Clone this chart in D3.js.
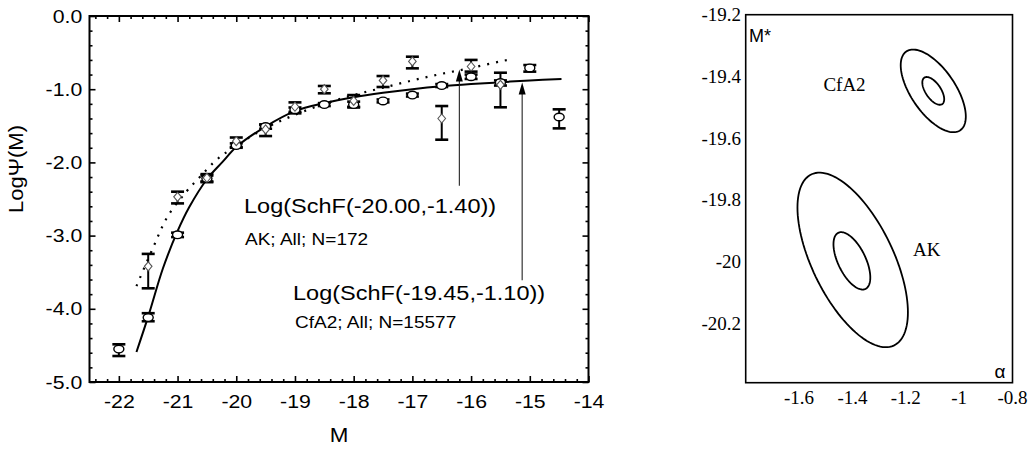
<!DOCTYPE html>
<html>
<head>
<meta charset="utf-8">
<script src="https://cdn.jsdelivr.net/npm/d3@7"></script>
<style>
  body { margin: 0; background: #fff; }
  svg { display: block; }
</style>
</head>
<body>
<svg id="chart" width="1030" height="450"></svg>
<script>
// ---- left panel: luminosity function ----
// CfA2 points (open circles)
const cfaM   = [-22, -21.5, -21, -20.5, -20, -19.5, -19, -18.5, -18, -17.5, -17, -16.5, -16, -15.5, -15, -14.5]
const cfaVal = [-4.55, -4.12, -2.99, -2.22, -1.77, -1.51, -1.28, -1.21, -1.21, -1.16, -1.08, -0.95, -0.83, -0.91, -0.71, -1.38]
const cfaHi  = [-4.485, -4.06, -2.96, -2.18, -1.74, -1.48, -1.25, -1.19, -1.17, -1.14, -1.06, -0.93, -0.80, -0.88, -0.67, -1.275]
const cfaLo  = [-4.645, -4.17, -3.02, -2.26, -1.80, -1.54, -1.31, -1.23, -1.25, -1.18, -1.10, -0.97, -0.86, -0.95, -0.76, -1.535]

// AK points (open diamonds)
const akM   = [-21.5, -21, -20.5, -20, -19.5, -19, -18.5, -18, -17.5, -17, -16.5, -16, -15.5]
const akVal = [-3.42, -2.47, -2.21, -1.71, -1.55, -1.24, -1.00, -1.16, -0.88, -0.62, -1.40, -0.69, -0.94]
const akHi  = [-3.25, -2.40, -2.16, -1.66, -1.49, -1.18, -0.956, -1.08, -0.82, -0.556, -1.23, -0.60, -0.775]
const akLo  = [-3.72, -2.56, -2.27, -1.79, -1.64, -1.33, -1.056, -1.24, -0.97, -0.715, -1.69, -0.76, -1.247]

// fitted curves
const fitCfaM = [-21.7, -21.49, -21.25, -21.0, -20.8, -20.5, -20.23, -20.0, -19.5, -19.0, -18.5, -18.0, -17.5, -17.0, -16.5, -16.0, -15.5, -15.0, -14.46]
const fitCfaV = [-4.59, -4.08, -3.45, -2.94, -2.61, -2.23, -1.99, -1.79, -1.51, -1.30, -1.19, -1.11, -1.05, -1.00, -0.96, -0.93, -0.905, -0.88, -0.86]
const fitAkM  = [-21.7, -21.42, -21.17, -20.85, -20.62, -20.37, -20.11, -19.5, -19.0, -18.5, -18.0, -17.5, -17.0, -16.5, -16.0, -15.5, -15.3]
const fitAkV  = [-3.69, -3.17, -2.74, -2.40, -2.20, -1.99, -1.83, -1.53, -1.35, -1.20, -1.08, -0.98, -0.88, -0.79, -0.71, -0.62, -0.59]

const xMajor = [-22, -21, -20, -19, -18, -17, -16, -15, -14]
const yMajor = [0, -1, -2, -3, -4, -5]

// arrows: [M, from, to]
const arrows = [[-16.2, -2.32, -0.73], [-15.13, -3.61, -0.91]]

// ---- right panel: confidence contours ----
const ellName = ['CfA2', 'CfA2', 'AK', 'AK']
const ellCx   = [-1.097, -1.097, -1.399, -1.402]
const ellCy   = [-19.447, -19.447, -19.995, -19.998]
const ellAx   = [0.122, 0.041, 0.207, 0.069]
const ellAy   = [0.134, 0.045, 0.283, 0.093]
const ellRho  = [-0.62, -0.6, -0.6, -0.58]

const aTicks = [-1.6, -1.4, -1.2, -1, -0.8]
const mTicks = [-19.2, -19.4, -19.6, -19.8, -20, -20.2]

const svg = d3.select('#chart')
const SANS = '"Liberation Sans", Arial, sans-serif'
const SERIF = '"Liberation Serif", "Times New Roman", serif'
const SX = 1.12  // the original glyphs are a little wider than Arial

let x = d3.scaleLinear().domain([-22.5, -14]).range([89.5, 588.5])
let y = d3.scaleLinear().domain([-5, 0]).range([382, 16])

const left = svg.append('g')

// ticks on all four sides, pointing in
const minorX = d3.range(-22.4, -14.01, 0.2).filter(v => Math.abs(v - Math.round(v)) > 0.01)
const minorY = d3.range(-4.8, -0.01, 0.2).filter(v => Math.abs(v - Math.round(v)) > 0.01)

const addAxis = (axisFn, scale, major, minor, tr, withLabels, fmt) => {
  const gMin = left.append('g').attr('transform', tr)
    .call(axisFn(scale).tickValues(minor).tickSize(-3).tickSizeOuter(0).tickFormat(''))
  const gMaj = left.append('g').attr('transform', tr)
    .call(axisFn(scale).tickValues(major).tickSize(-6).tickSizeOuter(0)
      .tickPadding(axisFn === d3.axisBottom ? 12.5 : 6.5)
      .tickFormat(withLabels ? fmt : ''))
  ;[gMin, gMaj].forEach(g => {
    g.select('.domain').remove()
    g.selectAll('line').attr('stroke', '#000').attr('stroke-width', 1.6)
  })
  gMaj.selectAll('text')
    .attr('font-family', SANS).attr('font-size', 19).attr('fill', '#000')
    .attr('transform', `scale(${SX},1)`)
}
addAxis(d3.axisBottom, x, xMajor, minorX, 'translate(0,382)', true, d => String(d))
addAxis(d3.axisTop, x, xMajor, minorX, 'translate(0,16)', false)
addAxis(d3.axisLeft, y, yMajor, minorY, 'translate(89.5,0)', true, d => d.toFixed(1))
addAxis(d3.axisRight, y, yMajor, minorY, 'translate(588.5,0)', false)

left.append('rect')
  .attr('x', 89.5).attr('y', 16).attr('width', 499).attr('height', 366)
  .attr('fill', 'none').attr('stroke', '#000').attr('stroke-width', 2)

// curves
const line = d3.line().x(d => x(d[0])).y(d => y(d[1])).curve(d3.curveCatmullRom)
left.append('path')
  .datum(fitCfaM.map((m, i) => [m, fitCfaV[i]]))
  .attr('d', line).attr('fill', 'none').attr('stroke', '#000').attr('stroke-width', 2)
left.append('path')
  .datum(fitAkM.map((m, i) => [m, fitAkV[i]]))
  .attr('d', line).attr('fill', 'none').attr('stroke', '#000')
  .attr('stroke-width', 2.2).attr('stroke-dasharray', '2,7')

// error bars
const errBars = (ms, his, los) => {
  const g = left.append('g').attr('stroke', '#000')
  ms.forEach((m, i) => {
    const cx = x(m)
    g.append('line').attr('x1', cx).attr('x2', cx).attr('y1', y(his[i])).attr('y2', y(los[i]))
      .attr('stroke-width', 2)
    ;[his[i], los[i]].forEach(v => {
      g.append('line').attr('x1', cx - 6.5).attr('x2', cx + 6.5).attr('y1', y(v)).attr('y2', y(v))
        .attr('stroke-width', 2.6)
    })
  })
}
errBars(cfaM, cfaHi, cfaLo)
errBars(akM, akHi, akLo)

left.append('g').selectAll('ellipse')
  .data(cfaM.map((m, i) => [m, cfaVal[i]]))
  .join('ellipse')
  .attr('cx', d => x(d[0])).attr('cy', d => y(d[1]))
  .attr('rx', 5).attr('ry', 3.8)
  .attr('fill', '#fff').attr('stroke', '#000').attr('stroke-width', 1.4)

left.append('g').selectAll('path')
  .data(akM.map((m, i) => [m, akVal[i]]))
  .join('path')
  .attr('d', d => {
    const cx = x(d[0]), cy = y(d[1])
    return `M${cx},${cy - 4.5}L${cx + 3.8},${cy}L${cx},${cy + 4.5}L${cx - 3.8},${cy}Z`
  })
  .attr('fill', '#fff').attr('stroke', '#555').attr('stroke-width', 1.1)

// arrows
arrows.forEach(a => {
  const ax = x(a[0]), y0 = y(a[1]), y1 = y(a[2])
  left.append('line').attr('x1', ax).attr('x2', ax).attr('y1', y0).attr('y2', y1 + 8)
    .attr('stroke', '#222').attr('stroke-width', 1.1)
  left.append('path')
    .attr('d', `M${ax},${y1}L${ax + 3.5},${y1 + 12}L${ax - 3.5},${y1 + 12}Z`)
    .attr('fill', '#000')
})

const stretchText = (g, tx, ty, str, size, opts = {}) => {
  return g.append('text')
    .attr('transform', `translate(${tx},${ty}) scale(${opts.sx || SX},1)${opts.rot ? ' rotate(' + opts.rot + ')' : ''}`)
    .attr('text-anchor', opts.anchor || 'start')
    .attr('font-family', opts.family || SANS)
    .attr('font-size', size)
    .attr('fill', '#000')
    .text(str)
}

stretchText(left, 244, 213, 'Log(SchF(-20.00,-1.40))', 21)
stretchText(left, 245, 245, 'AK; All; N=172', 17)
stretchText(left, 293, 300, 'Log(SchF(-19.45,-1.10))', 21)
stretchText(left, 295, 328, 'CfA2; All; N=15577', 17)

// axis titles
stretchText(left, 339, 441.5, 'M', 20, { anchor: 'middle' })
left.append('text')
  .attr('transform', 'translate(23,169) rotate(-90) scale(1.1,1)')
  .attr('text-anchor', 'middle')
  .attr('font-family', SANS).attr('font-size', 20).attr('fill', '#000')
  .text('LogΨ(M)')

// ---- right panel ----
const xr = d3.scaleLinear().domain([-1.8, -0.8]).range([745.7, 1012.5])
const yr = d3.scaleLinear().domain([-20.393, -19.2]).range([382.7, 14.7])
const right = svg.append('g')

right.append('rect')
  .attr('x', 745.7).attr('y', 14.7).attr('width', 266.8).attr('height', 368)
  .attr('fill', 'none').attr('stroke', '#000').attr('stroke-width', 1.6)

const angles = d3.range(0, 361, 3).map(d => d * Math.PI / 180)
const eLine = d3.line().x(d => xr(d[0])).y(d => yr(d[1]))
ellName.forEach((n, i) => {
  const s = Math.sqrt(1 - ellRho[i] * ellRho[i])
  const pts = angles.map(t => [
    ellCx[i] + ellAx[i] * Math.cos(t),
    ellCy[i] + ellAy[i] * (ellRho[i] * Math.cos(t) + s * Math.sin(t))
  ])
  right.append('path').datum(pts).attr('d', eLine)
    .attr('fill', 'none').attr('stroke', '#000').attr('stroke-width', 1.8)
})

right.selectAll('text.yl').data(mTicks).join('text')
  .attr('class', 'yl')
  .attr('x', 741).attr('y', d => yr(d) + 6.5)
  .attr('text-anchor', 'end')
  .attr('font-family', SERIF).attr('font-size', 19).attr('fill', '#000')
  .text(d => String(d))

right.selectAll('text.xl').data(aTicks).join('text')
  .attr('class', 'xl')
  .attr('x', d => xr(d)).attr('y', 404)
  .attr('text-anchor', 'middle')
  .attr('font-family', SERIF).attr('font-size', 19).attr('fill', '#000')
  .text(d => String(d))

right.append('text').attr('x', 844.5).attr('y', 91)
  .attr('text-anchor', 'middle').attr('font-family', SERIF).attr('font-size', 19)
  .text('CfA2')
right.append('text').attr('x', 926.7).attr('y', 256)
  .attr('text-anchor', 'middle').attr('font-family', SERIF).attr('font-size', 19)
  .text('AK')
right.append('text').attr('x', 749).attr('y', 41.5)
  .attr('font-family', SANS).attr('font-size', 18)
  .text('M*')
right.append('text').attr('x', 1000).attr('y', 378)
  .attr('text-anchor', 'middle').attr('font-family', SANS).attr('font-size', 19)
  .text('α')
</script>
</body>
</html>
